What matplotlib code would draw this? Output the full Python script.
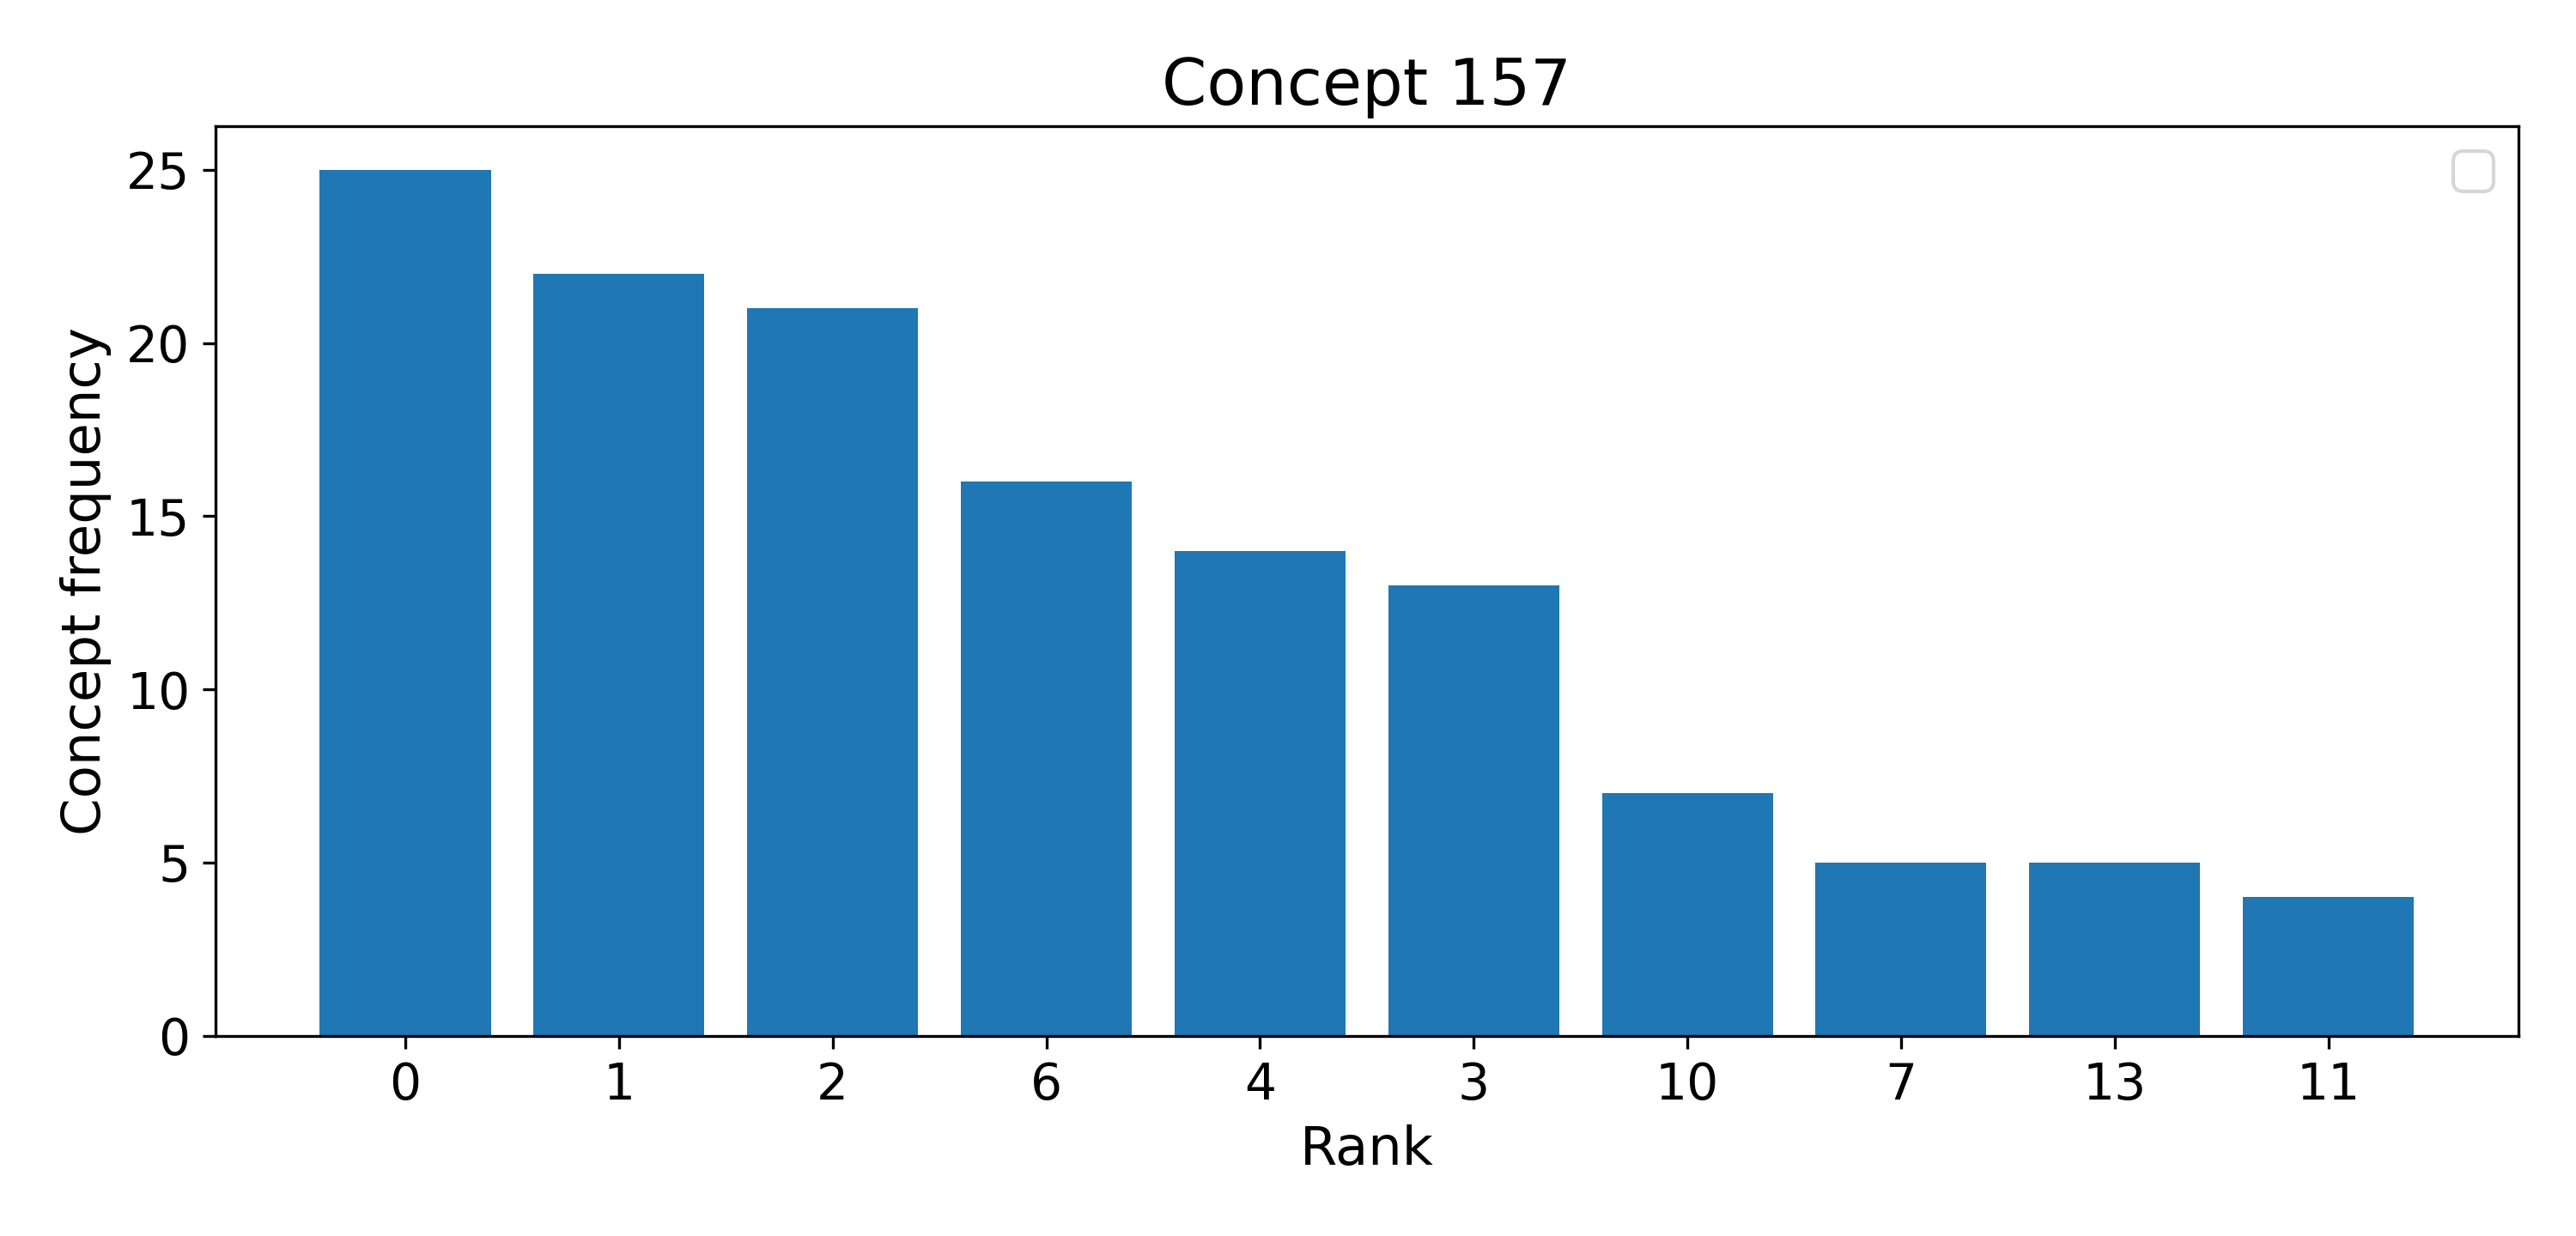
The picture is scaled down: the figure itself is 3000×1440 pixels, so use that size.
import matplotlib
matplotlib.use("Agg")
import matplotlib.pyplot as plt

# data
ranks = ["0", "1", "2", "6", "4", "3", "10", "7", "13", "11"]
freqs = [25, 22, 21, 16, 14, 13, 7, 5, 5, 4]

plt.rcParams["font.size"] = 14

fig, ax = plt.subplots(figsize=(10, 4.8))
ax.bar(ranks, freqs, color="#1f77b4")
ax.set_xlabel("Rank", fontsize=15)
ax.set_ylabel("Concept frequency", fontsize=15)
ax.set_title("Concept 157", fontsize=18)
ax.legend(handles=[], loc="upper right")

fig.subplots_adjust(left=0.0835, right=0.9777, top=0.8977, bottom=0.162)
fig.savefig("out.png", dpi=300)
